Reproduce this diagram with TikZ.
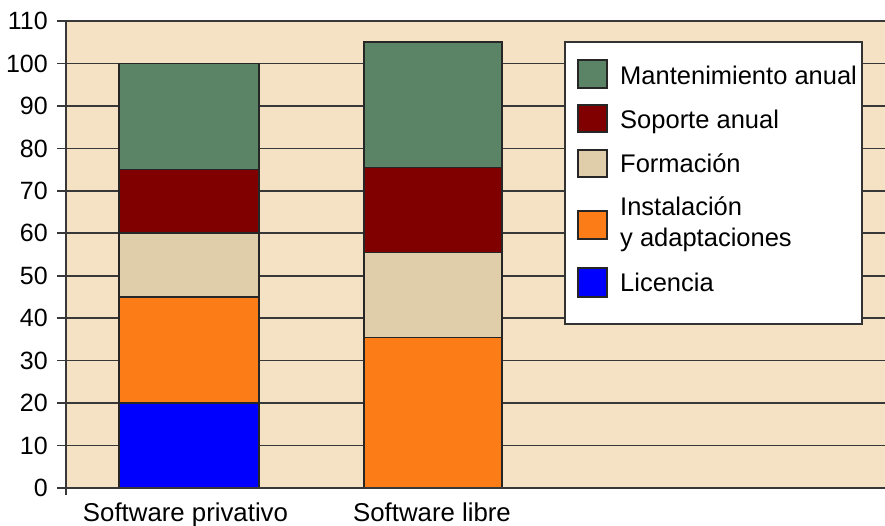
\documentclass[tikz,border=0pt]{standalone}
\usepackage{fontspec}
\setmainfont{Liberation Sans}
\definecolor{bgbeige}{HTML}{F5E1C3}
\definecolor{cgreen}{HTML}{5B8466}
\definecolor{cred}{HTML}{800000}
\definecolor{cform}{HTML}{E0CDAA}
\definecolor{corange}{HTML}{FC7D17}
\definecolor{cblue}{HTML}{0000FF}
\begin{document}
\begin{tikzpicture}[x=1pt,y=-1pt,
  seg/.style={draw=black!85,line width=1.6pt},
  gridln/.style={draw=black!78,line width=1.6pt},
  lbl/.style={font=\fontsize{25}{30}\selectfont,inner sep=0pt},
  cat/.style={font=\fontsize{25.8}{30}\selectfont,inner sep=0pt,anchor=base},
  leg/.style={font=\fontsize{25.5}{31}\selectfont,inner sep=0pt,anchor=base west},
  sw/.style={draw=black!85,line width=1.4pt}]
\useasboundingbox (0,0) rectangle (885,526);
\fill[bgbeige] (66,21) rectangle (885,488);
\foreach \v in {0,10,...,110} {
  \draw[gridln] (57,{488-4.245*\v}) -- (885,{488-4.245*\v});
  \node[lbl,anchor=east] (t\v) at (48,{488-4.245*\v}) {\v};
}
% Software privativo
\draw[seg,fill=cblue]   (119,{488-4.245*0})  rectangle (259,{488-4.245*20});
\draw[seg,fill=corange] (119,{488-4.245*20}) rectangle (259,{488-4.245*45});
\draw[seg,fill=cform]   (119,{488-4.245*45}) rectangle (259,{488-4.245*60});
\draw[seg,fill=cred]    (119,{488-4.245*60}) rectangle (259,{488-4.245*75});
\draw[seg,fill=cgreen]  (119,{488-4.245*75}) rectangle (259,{488-4.245*100});
% Software libre
\draw[seg,fill=corange] (364,{488-4.245*0})    rectangle (502,{488-4.245*35.5});
\draw[seg,fill=cform]   (364,{488-4.245*35.5}) rectangle (502,{488-4.245*55.5});
\draw[seg,fill=cred]    (364,{488-4.245*55.5}) rectangle (502,{488-4.245*75.5});
\draw[seg,fill=cgreen]  (364,{488-4.245*75.5}) rectangle (502,{488-4.245*105});
% axis
\draw[gridln] (66,21) -- (66,495);
\draw[gridln] (57,488) -- (885,488);
% category labels
\node[cat] (c1) at (185.5,521) {Software privativo};
\node[cat] (c2) at (432,521) {Software libre};
% legend
\draw[draw=black!80,line width=1.6pt,fill=white] (565,42) rectangle (862,324);
\draw[sw,fill=cgreen]  (578,60)  rectangle (607,88);
\draw[sw,fill=cred]    (578,105) rectangle (607,132);
\draw[sw,fill=cform]   (578,150) rectangle (607,177);
\draw[sw,fill=corange] (578,211) rectangle (607,239);
\draw[sw,fill=cblue]   (578,268) rectangle (607,297);
\node[leg] (l1) at (620,85) {Mantenimiento anual};
\node[leg] (l2) at (620,129) {Soporte anual};
\node[leg] (l3) at (620,173) {Formación};
\node[leg] (l4a) at (620,215.5) {Instalación};
\node[leg] (l4b) at (620,247) {y adaptaciones};
\node[leg] (l5) at (620,291) {Licencia};
\end{tikzpicture}
\end{document}
